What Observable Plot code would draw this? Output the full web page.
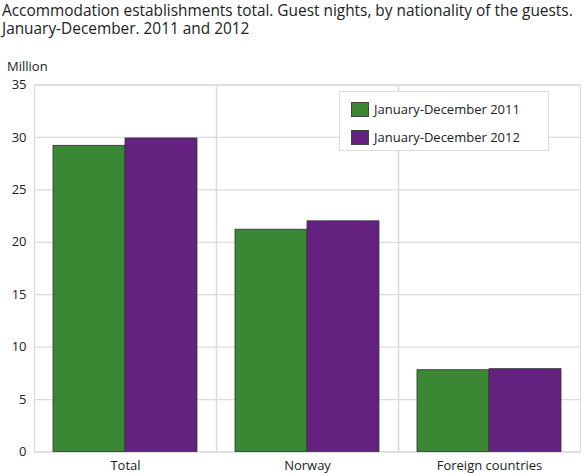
<!DOCTYPE html>
<html>
<head>
<meta charset="utf-8">
<script src="https://cdn.jsdelivr.net/npm/d3@7"></script>
<script src="https://cdn.jsdelivr.net/npm/@observablehq/plot@0.6"></script>
<style>
  body { margin: 0; background: #fff; font-family: "Open Sans", sans-serif; color: #222; }
  #wrap { position: relative; width: 584px; height: 474px; overflow: hidden; }
  #title { font-size: 15.4px; line-height: 18px; height: 36px; box-sizing: border-box; padding-top: 1.5px;
           margin: 0 0 0 2px; white-space: nowrap; }
  #unit { font-size: 13px; line-height: 16px; height: 16px; margin: 22px 0 0 7px; }
  #legend { position: absolute; left: 339px; top: 91px; width: 208px; height: 58px;
            border: 1.5px solid #dcdcdc; background: #fff; font-size: 13px; }
  .item { position: absolute; left: 11px; height: 16px; line-height: 16px; white-space: nowrap; }
  .sw { display: inline-block; width: 18px; height: 15px; vertical-align: -3px; margin-right: 5px;
        box-sizing: border-box; border: 1px solid #444; }
</style>
</head>
<body>
<div id="wrap">
  <div id="title">Accommodation establishments total. Guest nights, by nationality of the guests.<br>January-December. 2011 and 2012</div>
  <div id="unit">Million</div>
  <div id="chart"></div>
  <div id="legend"></div>
</div>
<script>
const groups = ['Total', 'Norway', 'Foreign countries'];
const periods = ['January-December 2011', 'January-December 2012'];
const values2011 = [29.2, 21.2, 7.8];
const values2012 = [29.9, 22.0, 7.9];
const colors = ['#3a8834', '#642180'];
const yTicks = [0, 5, 10, 15, 20, 25, 30, 35];

const data = groups.flatMap((g, i) => [
  {group: g, period: periods[0], value: values2011[i]},
  {group: g, period: periods[1], value: values2012[i]}
]);

const chart = Plot.plot({
  width: 584,
  height: 400,
  marginTop: 10.5,
  marginBottom: 22.5,
  marginLeft: 33,
  marginRight: 4,
  style: {fontFamily: 'Open Sans', fontSize: '13px', color: '#222', background: 'transparent'},
  fx: {domain: groups, padding: 0, label: null, tickSize: 0, tickPadding: 9},
  x: {domain: periods, paddingInner: 0, paddingOuter: 0.247, axis: null},
  y: {domain: [0, 35], ticks: yTicks, label: null, tickSize: 0, tickPadding: 8},
  color: {domain: periods, range: colors},
  marks: [
    Plot.gridY(yTicks, {stroke: '#dcdcdc', strokeOpacity: 1, strokeWidth: 1.3}),
    Plot.frame({stroke: '#dcdcdc', strokeWidth: 1.3}),
    Plot.barY(data, {fx: 'group', x: 'period', y: 'value', fill: 'period', stroke: '#333', strokeWidth: 0.8})
  ]
});

d3.select('#chart').append(() => chart);

// legend box inside the plot area
const legend = d3.select('#legend');
periods.forEach((p, i) => {
  const item = legend.append('div').attr('class', 'item').style('top', (i === 0 ? 9 : 37) + 'px');
  item.append('span').attr('class', 'sw').style('background', colors[i]);
  item.append('span').text(p);
});
</script>
</body>
</html>
